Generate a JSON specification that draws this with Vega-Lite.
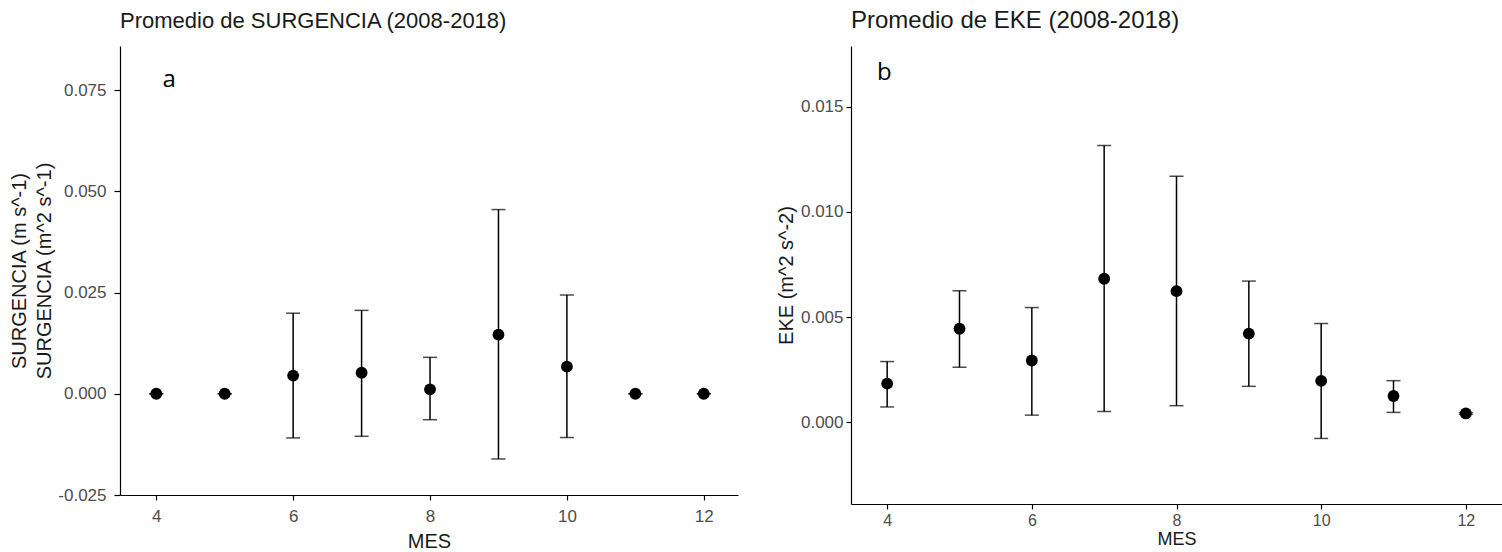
{
  "$schema": "https://vega.github.io/schema/vega-lite/v6.json",
  "background": "white",
  "padding": {"left": 9, "top": 9, "right": 0, "bottom": 0},
  "spacing": 38,
  "config": {
    "view": {"stroke": null},
    "font": "Liberation Sans",
    "axis": {
      "grid": false,
      "domainColor": "#000000",
      "domainWidth": 1.2,
      "tickColor": "#000000",
      "tickWidth": 1.2,
      "tickSize": 5,
      "labelColor": "#4d4d4d",
      "labelFont": "Liberation Sans",
      "titleFont": "Liberation Sans",
      "titleFontWeight": "normal",
      "titleColor": "#1a1a1a",
      "labelExpr": "replace(datum.label, '\u2212', '-')"
    },
    "title": {"font": "Liberation Sans", "fontWeight": "normal", "color": "#1a1a1a", "anchor": "start", "frame": "group"}
  },
  "datasets": {
    "surg": [
      {"MES": 4, "media": 0, "inf": 0, "sup": 0},
      {"MES": 5, "media": 0, "inf": 0, "sup": 0},
      {"MES": 6, "media": 0.0045, "inf": -0.0109, "sup": 0.0199},
      {"MES": 7, "media": 0.0052, "inf": -0.0105, "sup": 0.0206},
      {"MES": 8, "media": 0.0011, "inf": -0.0064, "sup": 0.0090},
      {"MES": 9, "media": 0.0146, "inf": -0.0161, "sup": 0.0455},
      {"MES": 10, "media": 0.0067, "inf": -0.0108, "sup": 0.0244},
      {"MES": 11, "media": 0, "inf": 0, "sup": 0},
      {"MES": 12, "media": 0, "inf": 0, "sup": 0}
    ],
    "eke": [
      {"MES": 4, "media": 0.00183, "inf": 0.00072, "sup": 0.00288},
      {"MES": 5, "media": 0.00444, "inf": 0.00261, "sup": 0.00625},
      {"MES": 6, "media": 0.00293, "inf": 0.00033, "sup": 0.00545},
      {"MES": 7, "media": 0.00682, "inf": 0.00050, "sup": 0.01316},
      {"MES": 8, "media": 0.00623, "inf": 0.00078, "sup": 0.01170},
      {"MES": 9, "media": 0.00421, "inf": 0.00170, "sup": 0.00671},
      {"MES": 10, "media": 0.00196, "inf": -0.00078, "sup": 0.00469},
      {"MES": 11, "media": 0.00124, "inf": 0.00046, "sup": 0.00197},
      {"MES": 12, "media": 0.00041, "inf": 0.00037, "sup": 0.00045}
    ],
    "etqA": [{"MES": 4.19, "valor": 0.0775, "txt": "a"}],
    "etqB": [{"MES": 3.96, "valor": 0.0166, "txt": "b"}]
  },
  "hconcat": [
    {
      "width": 618,
      "height": 449,
      "title": {"text": "Promedio de SURGENCIA (2008-2018)", "fontSize": 22, "offset": 13},
      "encoding": {
        "x": {"field": "MES", "type": "quantitative", "scale": {"domain": [3.47, 12.5], "nice": false, "zero": false},
              "axis": {"values": [4, 6, 8, 10, 12], "format": "d", "title": "MES", "labelFontSize": 17, "titleFontSize": 20, "labelPadding": 8, "titlePadding": 7}}
      },
      "layer": [
        {
          "data": {"name": "surg"},
          "mark": {"type": "errorbar", "ticks": {"size": 14, "thickness": 1.5, "color": "#000000"}, "rule": {"strokeWidth": 1.5, "color": "#000000"}},
          "encoding": {
            "y": {"field": "inf", "type": "quantitative", "scale": {"domain": [-0.025, 0.0859], "nice": false, "zero": false},
                  "axis": {"values": [-0.025, 0, 0.025, 0.05, 0.075], "format": ".3f", "labelFontSize": 17, "titleFontSize": 20, "titleLineHeight": 25,
                           "title": ["SURGENCIA (m s^-1)", "SURGENCIA (m^2 s^-1)"], "titlePadding": 3, "labelPadding": 8, "tickSize": 6}},
            "y2": {"field": "sup"}
          }
        },
        {
          "data": {"name": "surg"},
          "mark": {"type": "point", "filled": true, "size": 140, "color": "#000000", "opacity": 1},
          "encoding": {
            "y": {"field": "media", "type": "quantitative",
                  "axis": {"values": [-0.025, 0, 0.025, 0.05, 0.075], "format": ".3f", "labelFontSize": 17, "titleFontSize": 20, "titleLineHeight": 25,
                           "title": ["SURGENCIA (m s^-1)", "SURGENCIA (m^2 s^-1)"], "titlePadding": 3, "labelPadding": 8, "tickSize": 6}}
          }
        },
        {
          "data": {"name": "etqA"},
          "mark": {"type": "text", "font": "Open Sans", "fontSize": 24, "color": "#000000"},
          "encoding": {
            "y": {"field": "valor", "type": "quantitative",
                  "axis": {"values": [-0.025, 0, 0.025, 0.05, 0.075], "format": ".3f", "labelFontSize": 17, "titleFontSize": 20, "titleLineHeight": 25,
                           "title": ["SURGENCIA (m s^-1)", "SURGENCIA (m^2 s^-1)"], "titlePadding": 3, "labelPadding": 8, "tickSize": 6}},
            "text": {"field": "txt"}
          }
        }
      ]
    },
    {
      "width": 651,
      "height": 458,
      "title": {"text": "Promedio de EKE (2008-2018)", "fontSize": 24, "offset": 13},
      "encoding": {
        "x": {"field": "MES", "type": "quantitative", "scale": {"domain": [3.5, 12.5], "nice": false, "zero": false},
              "axis": {"values": [4, 6, 8, 10, 12], "format": "d", "title": "MES", "labelFontSize": 16, "titleFontSize": 18, "labelPadding": 3, "titlePadding": 2}}
      },
      "layer": [
        {
          "data": {"name": "eke"},
          "mark": {"type": "errorbar", "ticks": {"size": 14, "thickness": 1.5, "color": "#000000"}, "rule": {"strokeWidth": 1.5, "color": "#000000"}},
          "encoding": {
            "y": {"field": "inf", "type": "quantitative", "scale": {"domain": [-0.0039, 0.0179], "nice": false, "zero": false},
                  "axis": {"values": [0, 0.005, 0.01, 0.015], "format": ".3f", "labelFontSize": 17, "titleFontSize": 20,
                           "title": "EKE (m^2 s^-2)", "titlePadding": 4, "labelPadding": 3}},
            "y2": {"field": "sup"}
          }
        },
        {
          "data": {"name": "eke"},
          "mark": {"type": "point", "filled": true, "size": 140, "color": "#000000", "opacity": 1},
          "encoding": {
            "y": {"field": "media", "type": "quantitative",
                  "axis": {"values": [0, 0.005, 0.01, 0.015], "format": ".3f", "labelFontSize": 17, "titleFontSize": 20,
                           "title": "EKE (m^2 s^-2)", "titlePadding": 4, "labelPadding": 3}}
          }
        },
        {
          "data": {"name": "etqB"},
          "mark": {"type": "text", "font": "Open Sans", "fontSize": 24, "color": "#000000"},
          "encoding": {
            "y": {"field": "valor", "type": "quantitative",
                  "axis": {"values": [0, 0.005, 0.01, 0.015], "format": ".3f", "labelFontSize": 17, "titleFontSize": 20,
                           "title": "EKE (m^2 s^-2)", "titlePadding": 4, "labelPadding": 3}},
            "text": {"field": "txt"}
          }
        }
      ]
    }
  ]
}
